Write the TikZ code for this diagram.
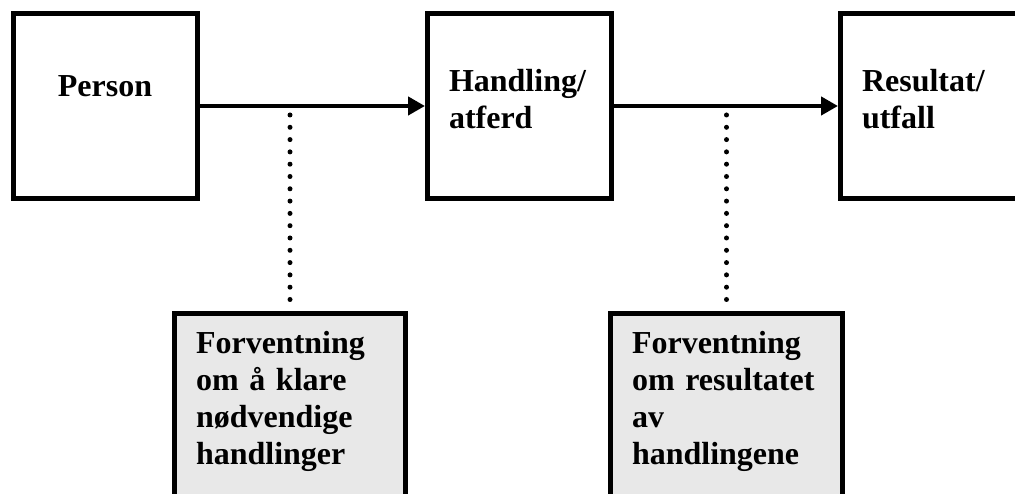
\documentclass[tikz,border=0pt]{standalone}
\usepackage{fontspec}
\setmainfont{Liberation Serif}
\usetikzlibrary{arrows.meta}

\begin{document}
\begin{tikzpicture}[x=1pt, y=1pt, font=\fontsize{32}{37}\selectfont\bfseries,
	box/.style={draw, line width=5pt, inner xsep=21.5pt, inner ysep=0pt, minimum width=184pt, minimum height=185pt, align=left},
	expbox/.style={draw, line width=5pt, fill=gray!18, inner xsep=21.5pt, inner ysep=17.5pt, text width=188pt, text depth=150pt, align=left, anchor=north},
	flow/.style={line width=4.5pt, -{Triangle[length=17pt, width=18pt]}},
	dotline/.style={line width=5pt, line cap=round, dash pattern=on 0pt off 12.3pt}]
	\useasboundingbox (0,0) rectangle (1015,494);
	\node[box, align=center, text depth=40pt] (person) at (105,388) {Person};
	\node[box, text width=141pt, text depth=51pt] (hand) at (519.5,388) {Handling/\\atferd};
	\node[box, text width=141pt, text depth=51pt] (result) at (932.5,388) {Resultat/\\utfall};
	\draw[flow] (person.east) -- (hand.west);
	\draw[flow] (hand.east) -- (result.west);
	\node[expbox] (exp1) at (290,183) {Forventning\\om å klare\\nødvendige\\handlinger};
	\node[expbox, text width=189pt] (exp2) at (726.5,183) {Forventning\\om resultatet\\av\\handlingene};
	\coordinate (d1) at (290,379);
	\coordinate (d2) at (726.5,379);
	\draw[dotline] (d1) -- (exp1.north);
	\draw[dotline] (d2) -- (exp2.north);
\end{tikzpicture}
\end{document}
